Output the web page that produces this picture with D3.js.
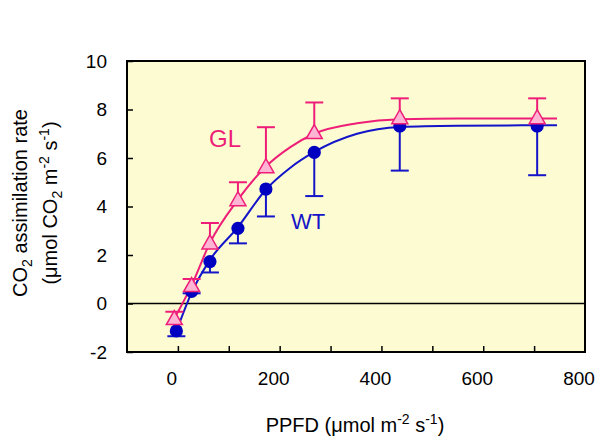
<!DOCTYPE html>
<html><head><meta charset="utf-8">
<script src="https://cdn.jsdelivr.net/npm/d3@7"></script>
<style>body{margin:0;background:#fff} text{font-family:"Liberation Sans",Arial,sans-serif}</style>
</head><body><svg id="c" width="600" height="440"></svg>
<script>
// ---- data ----
const wtPPFD = [-3, 27, 63, 118, 173, 268, 436, 706];
const wtRate = [-1.13, 0.5, 1.73, 3.1, 4.72, 6.23, 7.32, 7.32];
const wtErr  = [0.22, 0.08, 0.45, 0.62, 1.13, 1.8, 1.84, 2.03];
const glPPFD = [-7, 27, 63, 118, 173, 268, 436, 706];
const glRate = [-0.62, 0.74, 2.5, 4.28, 5.64, 7.05, 7.66, 7.66];
const glErr  = [0.28, 0.27, 0.82, 0.72, 1.63, 1.24, 0.8, 0.8];
const wtCurveX = [-3, 27, 63, 118, 173, 221, 268, 352, 437, 550, 745];
const wtCurveY = [-1.15, 0.45, 1.8, 3.15, 4.7, 5.6, 6.25, 7.0, 7.28, 7.33, 7.35];
const glCurveX = [-7, 27, 63, 118, 173, 221, 268, 352, 437, 550, 745];
const glCurveY = [-0.62, 0.75, 2.5, 4.28, 5.65, 6.45, 7.0, 7.43, 7.6, 7.63, 7.63];
const xTickLabels = [0, 200, 400, 600, 800];
const xMinorTicks = [0, 100, 200, 300, 400, 500, 600, 700];
const yTickLabels = [-2, 0, 2, 4, 6, 8, 10];

const PINK = "#EE1E78", PINKFILL = "#FFB4D4", BLUE = "#1414C8", DOT = "#0000C0";
const FONT = '"Liberation Sans",Arial,sans-serif';
const svg = d3.select("#c");
const L = 127, R = 585, T = 61, B = 352;
const x = d3.scaleLinear().domain([-100, 800]).range([L, R]);
const y = d3.scaleLinear().domain([-2, 10]).range([B, T]);

svg.append("rect").attr("x", L).attr("y", T).attr("width", R - L).attr("height", B - T)
  .attr("fill", "#FCFBD2");

// axes
const xa = svg.append("g").attr("transform", `translate(0,${B})`)
  .call(d3.axisBottom(x).tickValues(xMinorTicks).tickSize(-6).tickFormat(""));
xa.select(".domain").remove();
xa.selectAll("line").attr("stroke", "#000").attr("stroke-width", 1.5);
const xl = svg.append("g").attr("transform", `translate(0,${B})`)
  .call(d3.axisBottom(x).tickValues(xTickLabels).tickSize(0).tickPadding(20).tickFormat(d => String(d)));
xl.select(".domain").remove();
xl.selectAll("text").attr("font-size", 19).attr("fill", "#000").attr("dx", -6.5)
  .style("font-family", FONT);

const ya = svg.append("g").attr("transform", `translate(${L},0)`)
  .call(d3.axisLeft(y).tickValues(yTickLabels).tickSize(-6).tickPadding(20).tickFormat(d => String(d)));
ya.select(".domain").remove();
ya.selectAll("line").attr("stroke", "#000").attr("stroke-width", 1.5);
ya.selectAll("text").attr("font-size", 19).attr("fill", "#000")
  .style("font-family", FONT);

// zero line
svg.append("line").attr("x1", L).attr("x2", R).attr("y1", y(0)).attr("y2", y(0))
  .attr("stroke", "#000").attr("stroke-width", 1.3);

// frame
svg.append("rect").attr("x", L).attr("y", T).attr("width", R - L).attr("height", B - T)
  .attr("fill", "none").attr("stroke", "#000").attr("stroke-width", 2);

// curves
const line = d3.line().x(d => x(d[0])).y(d => y(d[1])).curve(d3.curveMonotoneX);
svg.append("path").datum(wtCurveX.map((v, i) => [v, wtCurveY[i]]))
  .attr("d", line).attr("fill", "none").attr("stroke", BLUE).attr("stroke-width", 2);
svg.append("path").datum(glCurveX.map((v, i) => [v, glCurveY[i]]))
  .attr("d", line).attr("fill", "none").attr("stroke", PINK).attr("stroke-width", 2);

// WT error bars (downward) + points
const wt = wtPPFD.map((v, i) => ({x: v, y: wtRate[i], e: wtErr[i]}));
const gl = glPPFD.map((v, i) => ({x: v, y: glRate[i], e: glErr[i]}));
const wg = svg.append("g");
wt.forEach(d => {
  wg.append("line").attr("x1", x(d.x)).attr("x2", x(d.x)).attr("y1", y(d.y)).attr("y2", y(d.y - d.e))
    .attr("stroke", BLUE).attr("stroke-width", 2);
  wg.append("line").attr("x1", x(d.x) - 9).attr("x2", x(d.x) + 9).attr("y1", y(d.y - d.e)).attr("y2", y(d.y - d.e))
    .attr("stroke", BLUE).attr("stroke-width", 2);
});
svg.append("g").selectAll("circle").data(wt).join("circle")
  .attr("cx", d => x(d.x)).attr("cy", d => y(d.y)).attr("r", 6.6).attr("fill", DOT);

// GL error bars (upward) + triangles
const gg = svg.append("g");
gl.forEach(d => {
  gg.append("line").attr("x1", x(d.x)).attr("x2", x(d.x)).attr("y1", y(d.y)).attr("y2", y(d.y + d.e))
    .attr("stroke", PINK).attr("stroke-width", 2);
  gg.append("line").attr("x1", x(d.x) - 9).attr("x2", x(d.x) + 9).attr("y1", y(d.y + d.e)).attr("y2", y(d.y + d.e))
    .attr("stroke", PINK).attr("stroke-width", 2);
});
svg.append("g").selectAll("path").data(gl).join("path")
  .attr("transform", d => `translate(${x(d.x)},${y(d.y)})`)
  .attr("d", "M0,-8L8,6L-8,6Z")
  .attr("fill", PINKFILL).attr("stroke", PINK).attr("stroke-width", 1.5);

// series labels
svg.append("text").attr("x", 209).attr("y", 147).attr("font-size", 24).attr("fill", PINK).text("GL");
svg.append("text").attr("x", 291).attr("y", 229).attr("font-size", 22).attr("fill", BLUE).text("WT");

// y title
const yt = svg.append("g").attr("transform", "translate(27,203) rotate(-90)");
const t1 = yt.append("text").attr("text-anchor", "middle").attr("font-size", 20).attr("fill", "#000");
t1.append("tspan").text("CO");
t1.append("tspan").attr("font-size", 14).attr("dy", 5).text("2");
t1.append("tspan").attr("dy", -5).text(" assimilation rate");
const t2 = yt.append("text").attr("text-anchor", "middle").attr("y", 30).attr("font-size", 20).attr("fill", "#000");
t2.append("tspan").text("(\u03bcmol CO");
t2.append("tspan").attr("font-size", 14).attr("dy", 5).text("2");
t2.append("tspan").attr("dy", -5).text(" m");
t2.append("tspan").attr("font-size", 14).attr("dy", -8).text("-2");
t2.append("tspan").attr("dy", 8).text(" s");
t2.append("tspan").attr("font-size", 14).attr("dy", -8).text("-1");
t2.append("tspan").attr("dy", 8).text(")");

// x title
const xt = svg.append("text").attr("x", 355).attr("y", 432).attr("text-anchor", "middle")
  .attr("font-size", 20).attr("fill", "#000");
xt.append("tspan").text("PPFD (\u03bcmol m");
xt.append("tspan").attr("font-size", 14).attr("dy", -8).text("-2");
xt.append("tspan").attr("dy", 8).text(" s");
xt.append("tspan").attr("font-size", 14).attr("dy", -8).text("-1");
xt.append("tspan").attr("dy", 8).text(")");
</script></body></html>
